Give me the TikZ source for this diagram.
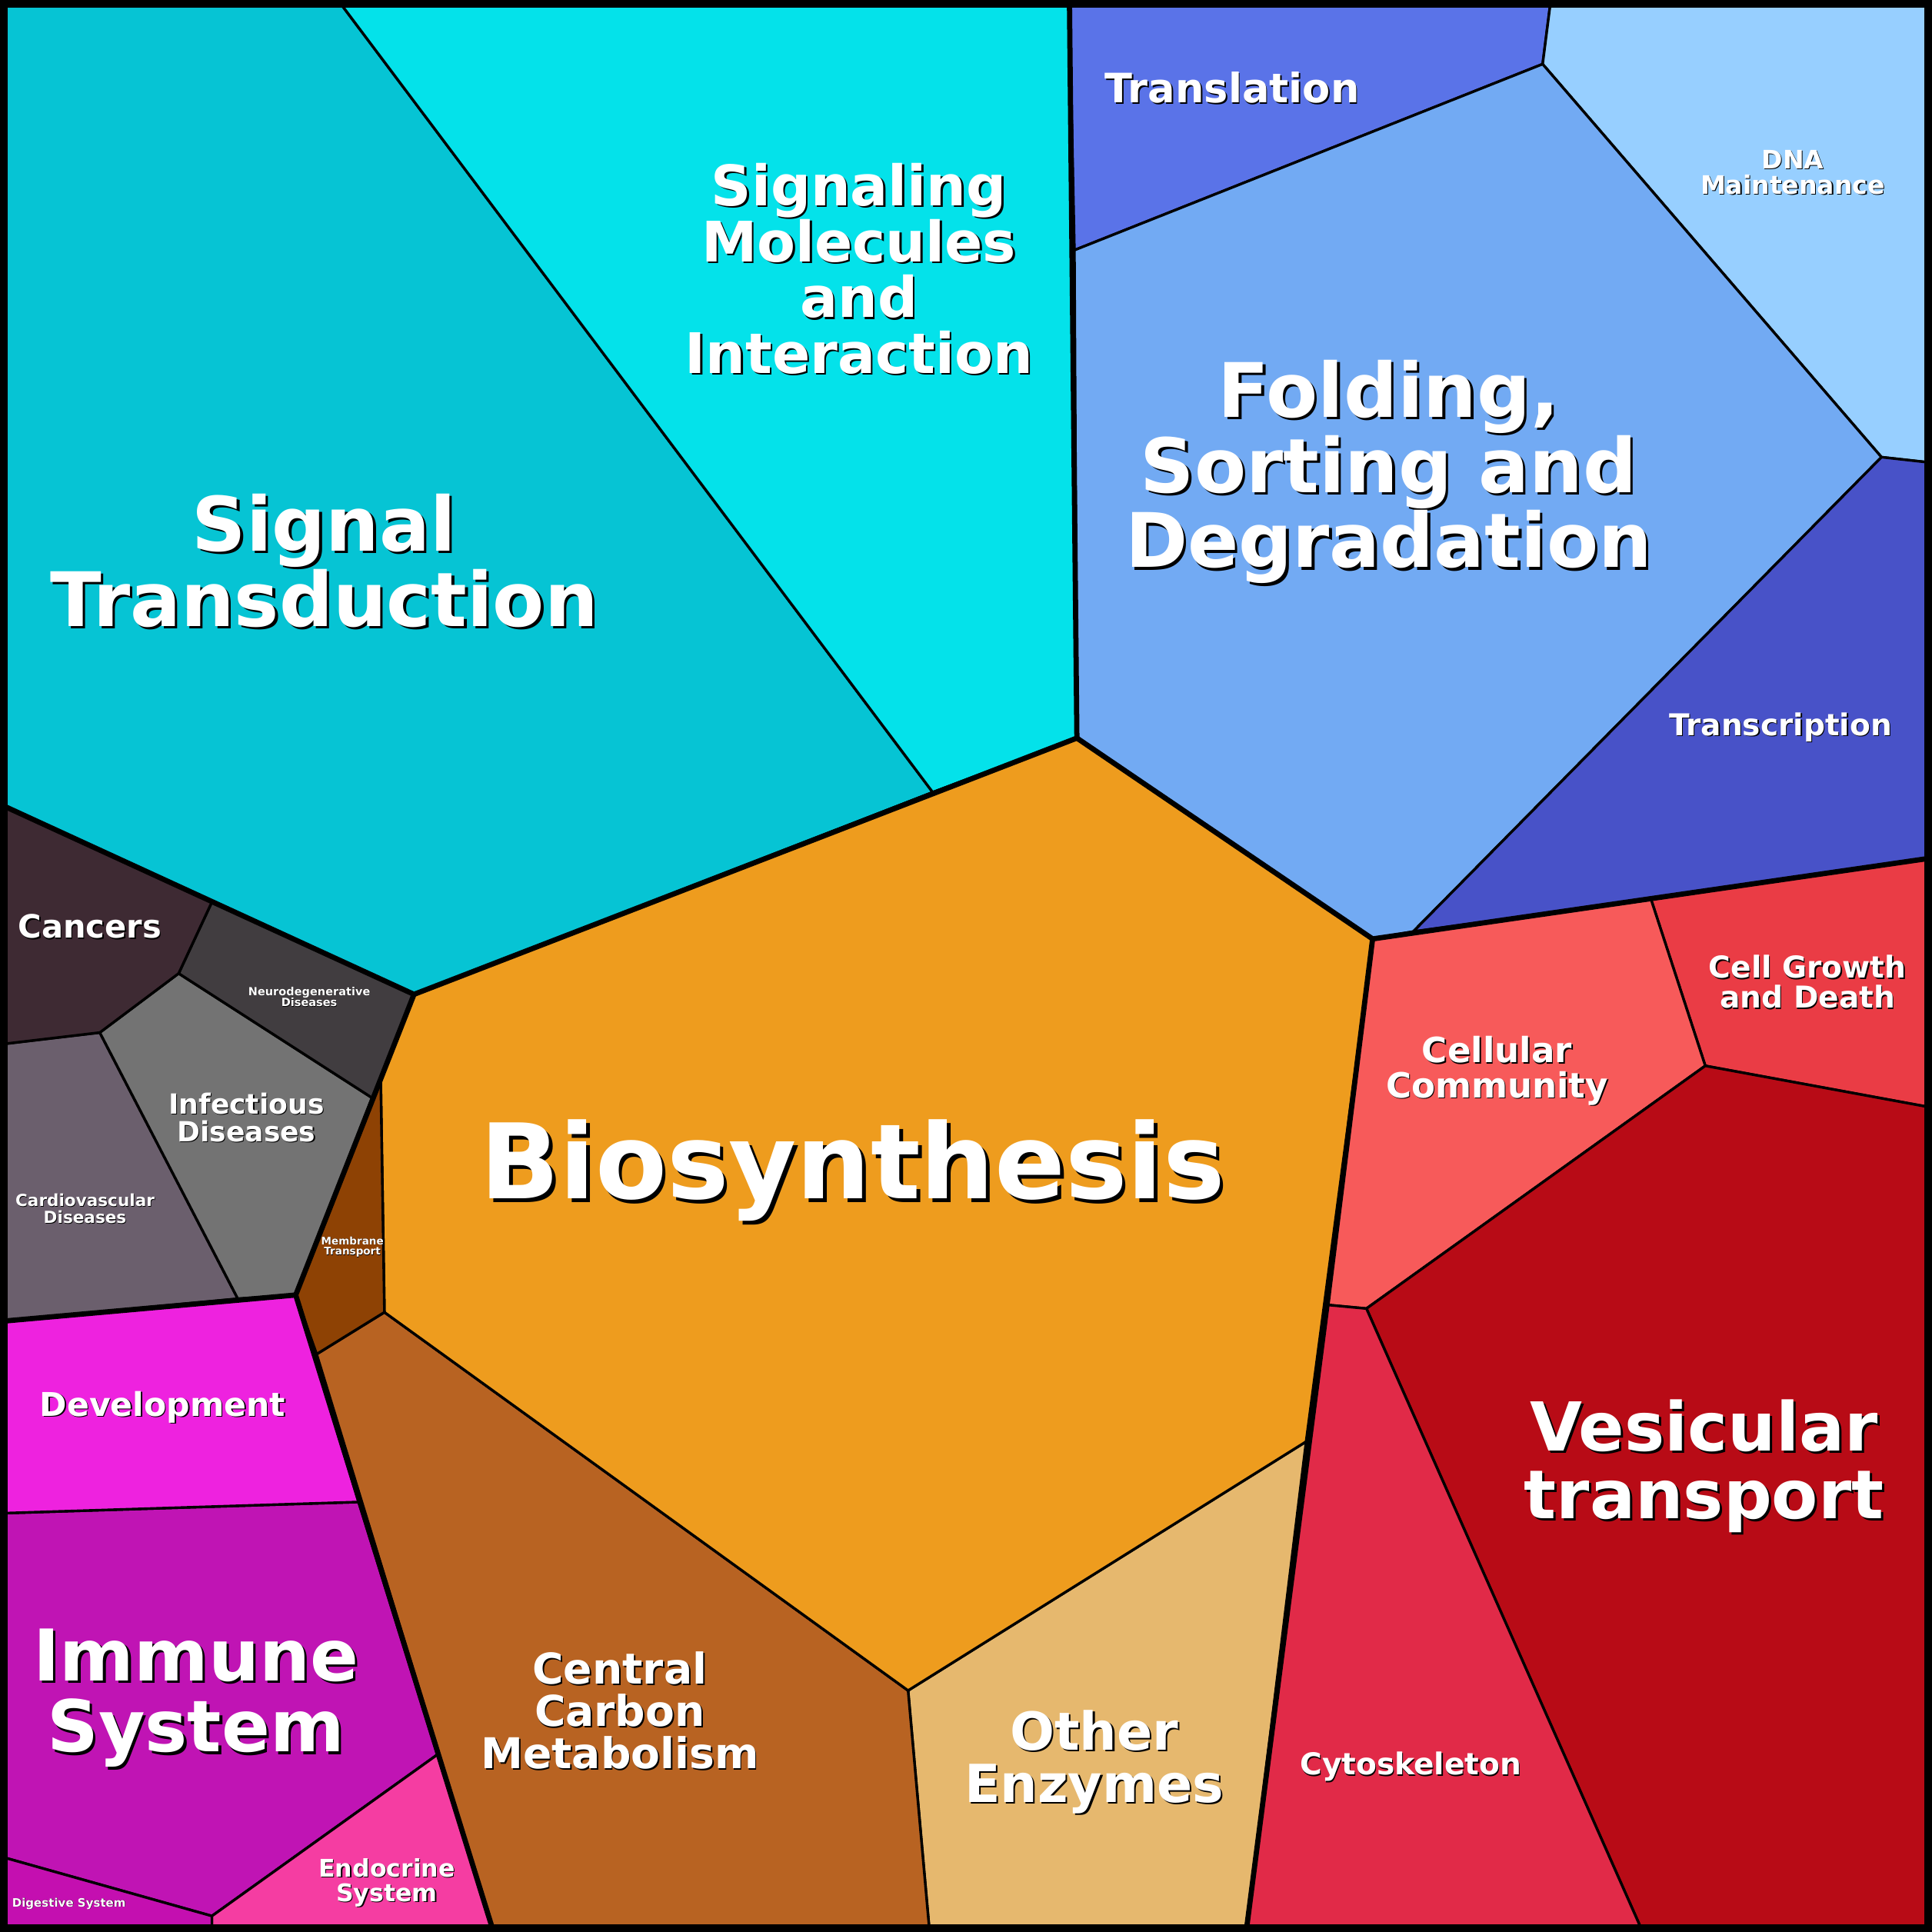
\documentclass[tikz,border=0pt]{standalone}
\usepackage{fontspec}
\setmainfont{DejaVu Sans}
\begin{document}
\begin{tikzpicture}[x=0.01cm,y=-0.01cm,line join=round,
  cell/.style={draw=black,line width=0.6pt},
  grp/.style={draw=black,line width=1.2pt}]
\newcommand{\lab}[4]{%
 \pgfmathsetmacro{\fs}{0.89*#3}%
 \node[align=center,text=black,font=\bfseries\fontsize{\fs pt}{1.0\dimexpr \fs pt\relax}\selectfont,xshift={0.035*\fs pt},yshift={-0.035*\fs pt}] at (#1,#2) {#4};
 \node[align=center,text=white,font=\bfseries\fontsize{\fs pt}{1.0\dimexpr \fs pt\relax}\selectfont] at (#1,#2) {#4};}
\useasboundingbox (0,0) rectangle (1568,1568);
\fill[black] (0,0) rectangle (1568,1568);
\definecolor{cST}{HTML}{06C4D4}\definecolor{cSM}{HTML}{04E2EA}
\definecolor{cTL}{HTML}{5A73E8}\definecolor{cDNA}{HTML}{97CFFF}
\definecolor{cFO}{HTML}{72AAF3}\definecolor{cTR}{HTML}{4852C8}
\definecolor{cCG}{HTML}{EA3C45}\definecolor{cCC}{HTML}{F75A5A}
\definecolor{cVT}{HTML}{B80B16}\definecolor{cCY}{HTML}{E12A48}
\definecolor{cOE}{HTML}{E6B86E}\definecolor{cCCM}{HTML}{B86322}
\definecolor{cBS}{HTML}{EE9C1E}\definecolor{cMT}{HTML}{8E4204}
\definecolor{cIM}{HTML}{C014B4}\definecolor{cDE}{HTML}{EE22DF}
\definecolor{cEN}{HTML}{F53DA2}\definecolor{cDI}{HTML}{C40FB0}
\definecolor{cCV}{HTML}{6B5F6D}\definecolor{cIN}{HTML}{737373}
\definecolor{cND}{HTML}{413D40}\definecolor{cCA}{HTML}{3E2A33}
\filldraw[cell,fill=cST] (5,5)--(278,5)--(757,643)--(336,807)--(5,655)--cycle;
\filldraw[cell,fill=cSM] (278,5)--(868,5)--(874,599)--(757,643)--cycle;
\filldraw[cell,fill=cTL] (868,5)--(1258,5)--(1252,52)--(872,203)--cycle;
\filldraw[cell,fill=cDNA] (1258,5)--(1563,5)--(1563,375)--(1527,371)--(1252,52)--cycle;
\filldraw[cell,fill=cFO] (872,203)--(1252,52)--(1527,371)--(1147,756)--(1114,762)--(874,599)--cycle;
\filldraw[cell,fill=cTR] (1527,371)--(1563,375)--(1563,697)--(1340,730)--(1147,756)--cycle;
\filldraw[cell,fill=cCG] (1340,730)--(1563,697)--(1563,898)--(1384,865)--cycle;
\filldraw[cell,fill=cCC] (1114,762)--(1340,730)--(1384,865)--(1109,1062)--(1077,1059)--cycle;
\filldraw[cell,fill=cVT] (1384,865)--(1563,898)--(1563,1563)--(1331,1563)--(1109,1062)--cycle;
\filldraw[cell,fill=cCY] (1077,1059)--(1109,1062)--(1331,1563)--(1012,1563)--(1060,1170)--cycle;
\filldraw[cell,fill=cOE] (1060,1170)--(1012,1563)--(754,1563)--(737,1372)--cycle;
\filldraw[cell,fill=cCCM] (737,1372)--(754,1563)--(399,1563)--(257,1099)--(312,1065)--cycle;
\filldraw[cell,fill=cBS] (874,599)--(1114,762)--(1060,1170)--(737,1372)--(312,1065)--(309,877)--(336,807)--(757,643)--cycle;
\filldraw[cell,fill=cMT] (309,877)--(312,1065)--(257,1099)--(240,1051)--cycle;
\filldraw[cell,fill=cIM] (5,1228)--(291,1219)--(355,1424)--(172,1555)--(5,1508)--cycle;
\filldraw[cell,fill=cEN] (355,1424)--(399,1563)--(172,1563)--(172,1555)--cycle;
\filldraw[cell,fill=cDI] (5,1508)--(172,1555)--(172,1563)--(5,1563)--cycle;
\filldraw[cell,fill=cDE] (5,1072)--(240,1051)--(291,1219)--(5,1228)--cycle;
\filldraw[cell,fill=cCV] (5,847)--(81,838)--(193,1054)--(5,1072)--cycle;
\filldraw[cell,fill=cIN] (81,838)--(145,790)--(302,891)--(240,1051)--(193,1054)--cycle;
\filldraw[cell,fill=cND] (172,732)--(336,807)--(302,891)--(145,790)--cycle;
\filldraw[cell,fill=cCA] (5,655)--(172,732)--(145,790)--(81,838)--(5,847)--cycle;
% group boundaries
\draw[grp] (874,599)--(1114,762)--(1077,1059)--(1012,1563);
\draw[grp] (1114,762)--(1563,697);
\draw[grp] (868,5)--(874,599)--(336,807)--(5,655);
\draw[grp] (336,807)--(240,1051)--(399,1563);
\draw[grp] (240,1051)--(5,1072);
\draw[black,line width=1.7pt] (3,3) rectangle (1565,1565);
% labels
\lab{263}{455}{19.5}{Signal\\Transduction}
\lab{697}{218}{14.5}{Signaling\\Molecules\\and\\Interaction}
\lab{1127}{383}{19.5}{Folding,\\Sorting and\\Degradation}
\lab{1000}{71}{10.5}{Translation}
\lab{1455}{140}{6.6}{DNA\\Maintenance}
\lab{1445}{590}{7.8}{Transcription}
\lab{1467}{797}{7.8}{Cell Growth\\and Death}
\lab{1215}{869}{9}{Cellular\\Community}
\lab{1383}{1190}{17.5}{Vesicular\\transport}
\lab{1145}{1434}{7.8}{Cytoskeleton}
\lab{888}{1430}{13.6}{Other\\Enzymes}
\lab{503}{1388}{11}{Central\\Carbon\\Metabolism}
\lab{692}{950}{27}{Biosynthesis}
\lab{286}{1012}{2.7}{Membrane\\Transport}
\lab{159}{1378}{18.5}{Immune\\System}
\lab{132}{1142}{8.5}{Development}
\lab{314}{1528}{6.3}{Endocrine\\System}
\lab{56}{1545}{3}{Digestive System}
\lab{69}{981}{4.3}{Cardiovascular\\Diseases}
\lab{200}{907}{7.2}{Infectious\\Diseases}
\lab{251}{809}{2.9}{Neurodegenerative\\Diseases}
\lab{73}{752}{8.3}{Cancers}
\end{tikzpicture}
\end{document}
